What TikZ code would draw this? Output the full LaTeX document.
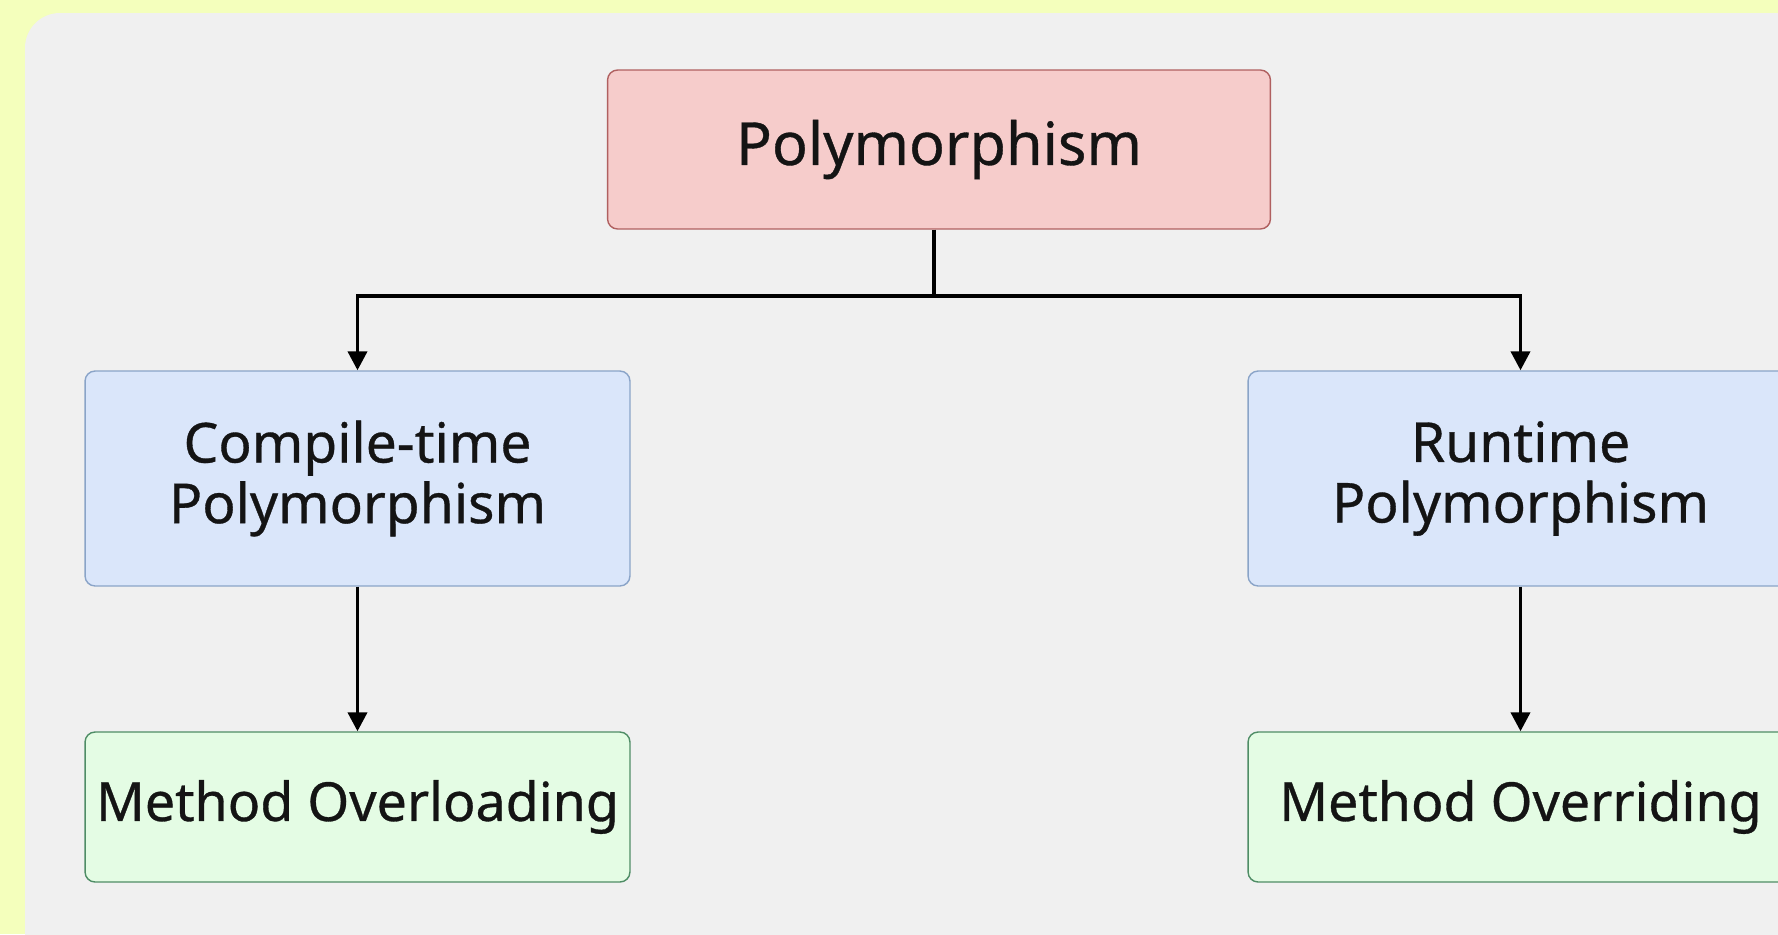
\documentclass[tikz,border=0pt]{standalone}
\usepackage{fontspec}
\setmainfont{Noto Sans}[FakeBold=0.6]
\usetikzlibrary{arrows.meta,positioning,calc}
\definecolor{yellowbg}{HTML}{F4FFBC}
\definecolor{panelbg}{HTML}{F0F0F0}
\definecolor{pinkfill}{HTML}{F6CCCB}
\definecolor{pinkline}{HTML}{B06060}
\definecolor{bluefill}{HTML}{DAE6FA}
\definecolor{blueline}{HTML}{8AA4C8}
\definecolor{greenfill}{HTML}{E4FCE4}
\definecolor{greenline}{HTML}{4F8D66}

\begin{document}
\begin{tikzpicture}[x=0.02cm, y=-0.02cm,
    box/.style={draw, rounded corners=0.2cm, line width=0.8pt, align=center,
        inner sep=1pt, minimum width=10.9cm, text=black!92,
        font=\fontsize{31.4}{34.5}\selectfont\bfseries},
    rootbox/.style={box, fill=pinkfill, draw=pinkline, font=\fontsize{33.8}{36}\selectfont\bfseries,
        minimum width=13.26cm, minimum height=3.18cm},
    kindbox/.style={box, fill=bluefill, draw=blueline, minimum height=4.3cm},
    methodbox/.style={box, fill=greenfill, draw=greenline, minimum height=3cm,
        font=\fontsize{30.6}{33}\selectfont\bfseries},
    link/.style={line width=2.2pt, -{Triangle[width=0.38cm,length=0.38cm]}}]
    \useasboundingbox (0,0) rectangle (1778,934);
    \clip (0,0) rectangle (1778,934);
    \fill[yellowbg] (0,0) rectangle (1778,934);
    \fill[panelbg, rounded corners=0.7cm] (25,13) rectangle (1840,980);

    \node[rootbox] (poly) at (939,149.5) {Polymorphism};
    \node[kindbox] (compile) at (357.5,478.5) {Compile-time\\Polymorphism};
    \node[kindbox] (runtime) at (1520.5,478.5) {Runtime\\Polymorphism};
    \node[methodbox] (overload) at (357.5,807) {Method Overloading};
    \node[methodbox] (override) at (1520.5,807) {Method Overriding};

    % branch point below the root, a little left of its centre
    \coordinate (stem) at ($(poly.south)+(-5,0)$);
    \coordinate (split) at ($(stem)+(0,66)$);
    \draw[line width=2.2pt] (stem) -- (split);
    \draw[link] (split) -| (compile.north);
    \draw[link] (split) -| (runtime.north);
    \draw[link] (compile) -- (overload);
    \draw[link] (runtime) -- (override);
\end{tikzpicture}
\end{document}
